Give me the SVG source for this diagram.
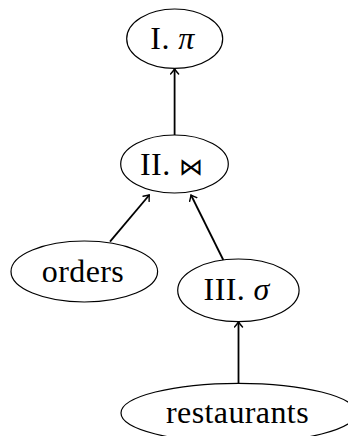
<svg xmlns="http://www.w3.org/2000/svg" width="348" height="436" viewBox="0 0 348 436">
<style>
.node ellipse{fill:#fff;stroke:#000;stroke-width:1.2}
.node text{font-family:"Liberation Serif","DejaVu Serif",serif;font-size:32px;letter-spacing:0.4px;text-anchor:middle;fill:#000}
.it{font-style:italic}
.bt{font-family:"DejaVu Sans",sans-serif;font-weight:200;font-size:24px}
.edge{stroke:#000;stroke-width:1.8;fill:none;marker-end:url(#arr)}
</style>
<defs>
<marker id="arr" viewBox="-6 -5 7 10" markerWidth="7" markerHeight="10" markerUnits="userSpaceOnUse" orient="auto" refX="0" refY="0">
<path d="M-5,-4 Q-1.5,-1 0,0 Q-1.5,1 -5,4" fill="none" stroke="#000" stroke-width="1.4" stroke-linecap="round"/>
</marker>
</defs>
<g id="connectors">
<line class="edge" x1="174.6" y1="135" x2="174.6" y2="69"/>
<line class="edge" x1="110" y1="241.7" x2="149.3" y2="195"/>
<line class="edge" x1="223.3" y1="260" x2="191" y2="195"/>
<line class="edge" x1="238.5" y1="383" x2="238.5" y2="322"/>
</g>
<g id="n1" class="node">
<ellipse cx="174.7" cy="38.7" rx="48" ry="29.7"/>
<text x="172.5" y="49">I. <tspan class="it">π</tspan></text>
</g>
<g id="n2" class="node">
<ellipse cx="174.5" cy="164" rx="53.8" ry="29"/>
<text x="171.7" y="175">II. <tspan class="bt">⋈</tspan></text>
</g>
<g id="orders" class="node">
<ellipse cx="84.3" cy="271.5" rx="73.3" ry="30.5"/>
<text x="83" y="281.7">orders</text>
</g>
<g id="n3" class="node">
<ellipse cx="238.4" cy="290.3" rx="60.7" ry="31.3"/>
<text x="236.7" y="300">III. <tspan class="it">σ</tspan></text>
</g>
<g id="restaurants" class="node">
<ellipse cx="238.5" cy="413" rx="117.5" ry="29.7"/>
<text x="237.5" y="422.7">restaurants</text>
</g>
</svg>
